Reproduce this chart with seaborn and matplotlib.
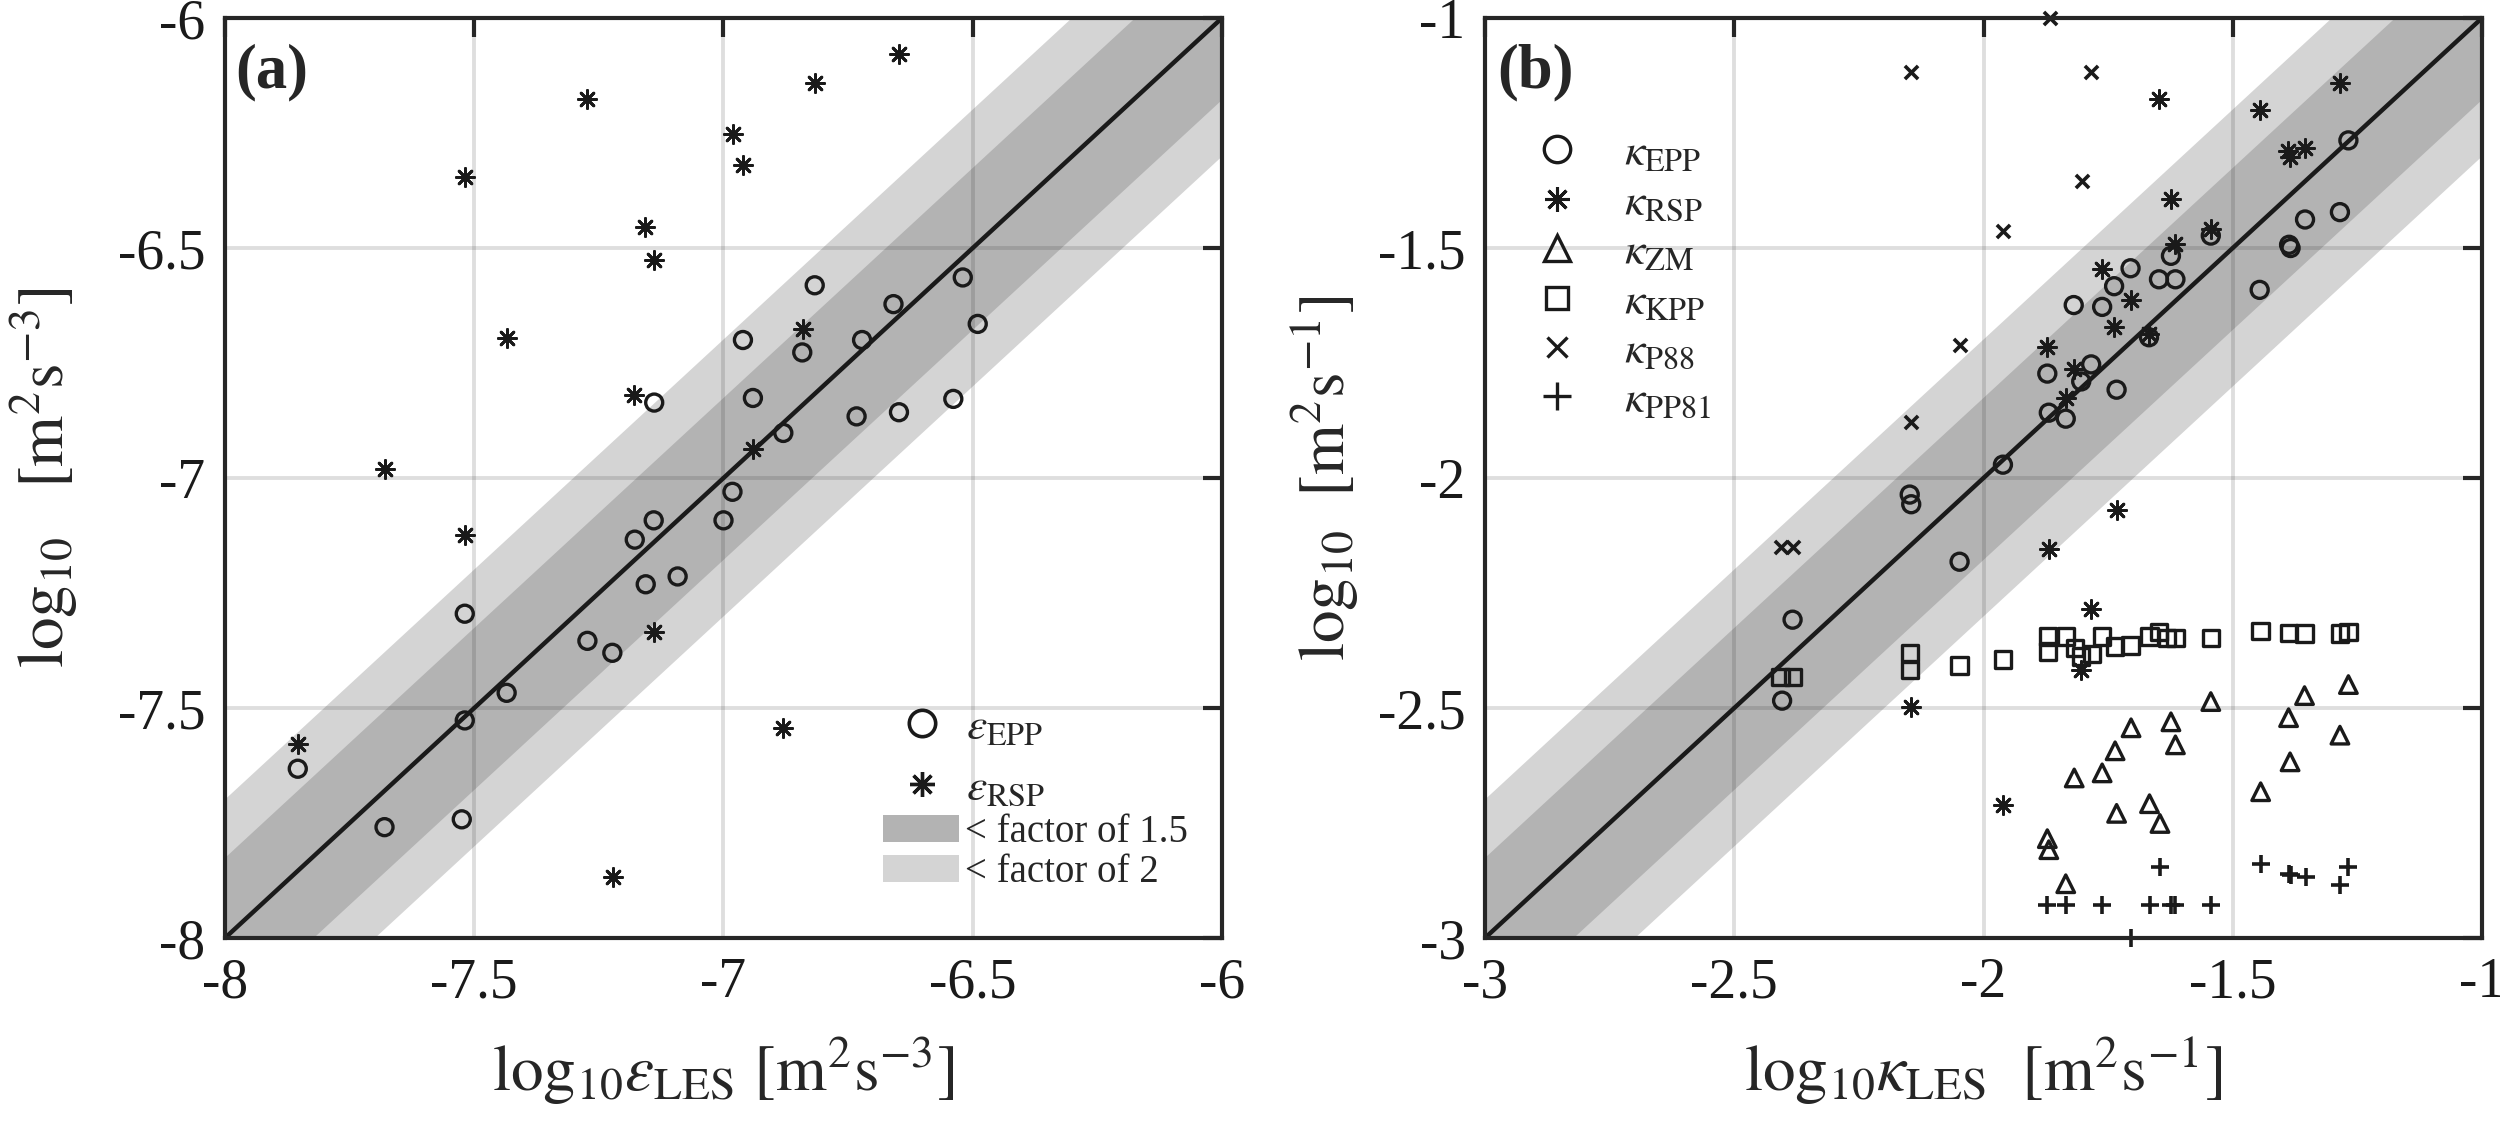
import matplotlib
matplotlib.use("Agg")
import matplotlib.pyplot as plt
import numpy as np
import seaborn as sns
from matplotlib.lines import Line2D
from matplotlib.patches import Patch

# ---- panel (a): log10 dissipation rate ----
eps_les_epp = [-6.817, -6.520, -6.659, -6.490, -6.961, -6.722, -6.842, -6.941, -6.539,
               -6.648, -6.733, -6.880, -7.139, -6.982, -7.000, -7.140, -7.178, -7.092,
               -7.156, -7.273, -7.223, -7.435, -7.519, -7.519, -7.854, -7.680, -7.525]
eps_epp = [-6.581, -6.564, -6.622, -6.665, -6.700, -6.700, -6.727, -6.826, -6.828,
           -6.857, -6.866, -6.902, -6.836, -7.030, -7.092, -7.092, -7.134, -7.214,
           -7.231, -7.354, -7.380, -7.467, -7.295, -7.527, -7.632, -7.759, -7.742]

eps_les_rsp = [-7.273, -7.519, -6.981, -6.961, -6.817, -6.648, -7.158, -7.139, -7.435,
               -7.180, -6.841, -6.940, -7.680, -7.519, -7.140, -7.854, -7.222, -6.880]
eps_rsp = [-6.175, -6.345, -6.252, -6.320, -6.141, -6.078, -6.455, -6.527, -6.695,
           -6.820, -6.676, -6.938, -6.980, -7.123, -7.335, -7.578, -7.867, -7.543]

# ---- panel (b): log10 diffusivity ----
kap_les_epp = [-1.268, -1.355, -1.285, -1.544, -1.624, -1.387, -1.384, -1.705, -1.738,
               -1.648, -1.615, -1.446, -1.819, -1.762, -1.668, -1.872, -1.784, -1.804,
               -1.733, -1.869, -1.835, -1.961, -2.148, -2.145, -2.048, -2.383, -2.404]
kap_epp = [-1.266, -1.438, -1.422, -1.473, -1.517, -1.493, -1.500, -1.544, -1.583,
           -1.568, -1.568, -1.591, -1.624, -1.628, -1.694, -1.773, -1.753, -1.790,
           -1.808, -1.858, -1.871, -1.971, -2.036, -2.057, -2.182, -2.308, -2.484]

kap_les_rsp = [-1.648, -1.446, -1.285, -1.390, -1.385, -1.356, -1.624, -1.544, -1.615,
               -1.762, -1.705, -1.738, -1.668, -1.872, -1.819, -1.835, -1.733, -1.869,
               -1.784, -1.804, -2.145, -1.961]
kap_rsp = [-1.176, -1.200, -1.142, -1.290, -1.302, -1.282, -1.394, -1.459, -1.492,
           -1.546, -1.613, -1.671, -1.686, -1.715, -1.762, -1.827, -2.070, -2.155,
           -2.284, -2.417, -2.497, -2.711]

kap_les_zm = [-1.544, -1.268, -1.356, -1.388, -1.285, -1.385, -1.444, -1.704, -1.624,
              -1.615, -1.736, -1.762, -1.818, -1.667, -1.733, -1.646, -1.872, -1.869, -1.835]
kap_zm = [-2.486, -2.449, -2.473, -2.521, -2.559, -2.617, -2.682, -2.543, -2.530,
          -2.580, -2.593, -2.641, -2.652, -2.708, -2.729, -2.751, -2.784, -2.808, -2.882]

kap_les_kpp = [-2.407, -2.382, -2.147, -2.147, -2.048, -1.961, -1.871, -1.871, -1.834,
               -1.817, -1.804, -1.782, -1.762, -1.736, -1.705, -1.667, -1.648, -1.632,
               -1.615, -1.544, -1.444, -1.387, -1.356, -1.285, -1.268]
kap_kpp = [-2.433, -2.433, -2.380, -2.417, -2.408, -2.395, -2.345, -2.377, -2.345,
           -2.369, -2.388, -2.383, -2.345, -2.366, -2.364, -2.345, -2.335, -2.348,
           -2.348, -2.348, -2.333, -2.337, -2.338, -2.338, -2.335]

kap_les_p88 = [-2.145, -1.961, -2.048, -2.145, -1.867, -1.784, -1.803, -2.407, -2.382]
kap_p88 = [-1.118, -1.464, -1.710, -1.878, -1.000, -1.118, -1.354, -2.151, -2.151]

kap_les_pp81 = [-1.872, -1.835, -1.762, -1.667, -1.624, -1.615, -1.544, -1.646, -1.444,
                -1.387, -1.384, -1.354, -1.268, -1.285, -1.704]
kap_pp81 = [-2.929, -2.929, -2.929, -2.929, -2.929, -2.929, -2.929, -2.846, -2.839,
            -2.860, -2.864, -2.868, -2.846, -2.884, -3.000]

# axes ranges and tick labels
lim_a = [-8, -6]
lim_b = [-3, -1]
ticks_a = [-8, -7.5, -7, -6.5, -6]
ticks_b = [-3, -2.5, -2, -1.5, -1]
ticklabels_a = ['-8', '-7.5', '-7', '-6.5', '-6']
ticklabels_b = ['-3', '-2.5', '-2', '-1.5', '-1']
factors = [1.5, 2]

dark = '#b3b3b3'
light = '#d4d4d4'
edge = '#262626'

sns.set_theme(style='white')
plt.rcParams['font.family'] = ['Liberation Serif', 'DejaVu Serif']
plt.rcParams['mathtext.fontset'] = 'stix'
plt.rcParams['axes.unicode_minus'] = False

fig, axes = plt.subplots(1, 2, figsize=(25, 11.33), dpi=100)
fig.subplots_adjust(left=0.09, right=0.9928, bottom=0.1721, top=0.9841, wspace=0.2638)

star = (8, 2, 0)


def open_pts(ax, x, y, marker, s):
    sns.scatterplot(x=x, y=y, ax=ax, marker=marker, s=s, color='k', facecolor='none',
                    edgecolor='k', linewidth=2.4, clip_on=False, zorder=5, legend=False)


def line_pts(ax, x, y, marker, s, lw=2.6):
    sns.scatterplot(x=x, y=y, ax=ax, marker=marker, s=s, color='k',
                    linewidth=lw, clip_on=False, zorder=5, legend=False)


def frame(ax, lim, ticks, labels):
    xx = np.array(lim, dtype=float)
    w2 = np.log10(factors[1])
    w15 = np.log10(factors[0])
    ax.fill_between(xx, xx - w2, xx + w2, color=light, lw=0, zorder=1)
    ax.fill_between(xx, xx - w15, xx + w15, color=dark, lw=0, zorder=1.1)
    sns.lineplot(x=xx, y=xx, ax=ax, color='k', lw=3.2, zorder=3)
    ax.set_xlim(lim)
    ax.set_ylim(lim)
    ax.set_xticks(ticks)
    ax.set_yticks(ticks)
    ax.set_xticklabels(labels)
    ax.set_yticklabels(labels)
    ax.grid(True, color='k', alpha=0.14, lw=2.8)
    ax.set_axisbelow(False)
    ax.tick_params(direction='in', length=14, width=3, color=edge, top=True, right=True,
                   labelsize=40, colors='k')
    ax.tick_params(axis='x', pad=14)
    ax.tick_params(axis='y', pad=14)
    for sp in ax.spines.values():
        sp.set_linewidth(3)
        sp.set_color(edge)
        sp.set_zorder(6)


# ---- panel (a) ----
ax = axes[0]
frame(ax, lim_a, ticks_a, ticklabels_a)
open_pts(ax, eps_les_epp, eps_epp, 'o', 150)
line_pts(ax, eps_les_rsp, eps_rsp, star, 170, lw=2.0)
ax.set_xlabel(r'$\mathrm{log}_{10}\varepsilon_{\mathrm{LES}}\ [\mathrm{m}^2\mathrm{s}^{-3}]$', fontsize=47)
ax.set_ylabel(r'$\mathrm{log}_{10}\quad[\mathrm{m}^2\mathrm{s}^{-3}]$', fontsize=47)
ax.xaxis.set_label_coords(0.5, -0.105)
ax.yaxis.set_label_coords(-0.145, 0.5)
ax.text(0.01, 0.941, '(a)', transform=ax.transAxes, fontsize=45, fontweight='bold',
        va='center', ha='left')

# marker entries and shaded-band entries are two stacked legends
h_a1 = [Line2D([], [], ls='none', marker='o', ms=19, mfc='none', mec='k', mew=2.6),
        Line2D([], [], ls='none', marker=star, ms=18, color='k', mew=2.4)]
l_a1 = [r'$\varepsilon_{\mathrm{EPP}}$', r'$\varepsilon_{\mathrm{RSP}}$']
leg1 = ax.legend(h_a1, l_a1, loc='lower left', bbox_to_anchor=(0.661, 0.139), frameon=False,
                 fontsize=33, handlelength=1.66, handletextpad=0.12,
                 labelspacing=0.4, borderpad=0, borderaxespad=0)
ax.add_artist(leg1)

h_a2 = [Patch(fc=dark, ec='none'), Patch(fc=light, ec='none')]
l_a2 = ['< factor of 1.5', '< factor of 2']
ax.legend(h_a2, l_a2, loc='lower right', bbox_to_anchor=(0.985, 0.03), frameon=False,
          fontsize=28, handlelength=1.95, handleheight=0.7, handletextpad=0.15,
          labelspacing=0.08, borderpad=0)

# ---- panel (b) ----
ax = axes[1]
frame(ax, lim_b, ticks_b, ticklabels_b)
open_pts(ax, kap_les_epp, kap_epp, 'o', 150)
line_pts(ax, kap_les_rsp, kap_rsp, star, 170, lw=2.0)
open_pts(ax, kap_les_zm, kap_zm, '^', 160)
open_pts(ax, kap_les_kpp, kap_kpp, 's', 140)
line_pts(ax, kap_les_p88, kap_p88, 'x', 90)
line_pts(ax, kap_les_pp81, kap_pp81, '+', 180)
ax.set_xlabel(r'$\mathrm{log}_{10}\kappa_{\mathrm{LES}}\ \ [\mathrm{m}^2\mathrm{s}^{-1}]$', fontsize=47)
ax.set_ylabel(r'$\mathrm{log}_{10}\ \ [\mathrm{m}^2\mathrm{s}^{-1}]$', fontsize=47)
ax.xaxis.set_label_coords(0.5, -0.105)
ax.yaxis.set_label_coords(-0.124, 0.5)
ax.text(0.012, 0.941, '(b)', transform=ax.transAxes, fontsize=45, fontweight='bold',
        va='center', ha='left')

h_b = [Line2D([], [], ls='none', marker='o', ms=19, mfc='none', mec='k', mew=2.4),
       Line2D([], [], ls='none', marker=star, ms=18, color='k', mew=2.2),
       Line2D([], [], ls='none', marker='^', ms=19, mfc='none', mec='k', mew=2.4),
       Line2D([], [], ls='none', marker='s', ms=16, mfc='none', mec='k', mew=2.4),
       Line2D([], [], ls='none', marker='x', ms=15, color='k', mew=2.4),
       Line2D([], [], ls='none', marker='+', ms=20, color='k', mew=2.4)]
l_b = [r'$\kappa_{\mathrm{EPP}}$', r'$\kappa_{\mathrm{RSP}}$', r'$\kappa_{\mathrm{ZM}}$',
       r'$\kappa_{\mathrm{KPP}}$', r'$\kappa_{\mathrm{P88}}$', r'$\kappa_{\mathrm{PP81}}$']
ax.legend(h_b, l_b, loc='upper left', bbox_to_anchor=(0.026, 0.9), frameon=False,
          fontsize=33, handlelength=1.0, handletextpad=0.96, labelspacing=0.15, borderpad=0)

fig.savefig('out.png', dpi=100)
